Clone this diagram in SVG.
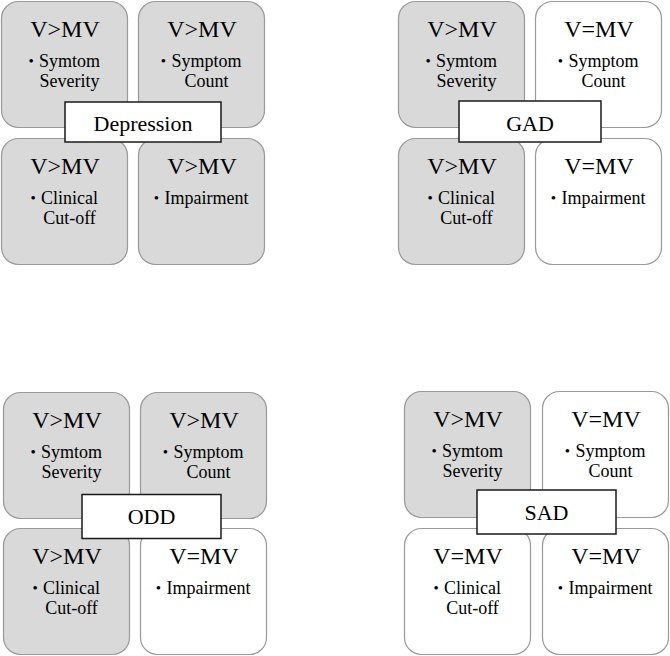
<svg xmlns="http://www.w3.org/2000/svg" width="670" height="656" viewBox="0 0 670 656" font-family="'Liberation Serif', 'DejaVu Serif', serif">
<style>
  text { font-family: 'Liberation Serif', 'DejaVu Serif', serif; fill: #000; text-anchor: middle; }
  .box { stroke: #999; stroke-width: 1.2; }
  .gray { fill: #d9d9d9; }
  .white { fill: #fff; }
  .v { font-size: 24px; }
  .b { font-size: 18px; }
  .dot { font-size: 15px; }
  .lab { fill: #fff; stroke: #1a1a1a; stroke-width: 1.5; }
  .lt { font-size: 22px; }
</style>
<rect width="670" height="656" fill="#fff"/>

<g id="depression">
  <g id="dep-tl"><rect class="box gray" x="1.5" y="1.5" width="126" height="126" rx="17"/>
    <text class="v" x="65" y="37">V&gt;MV</text><text class="dot" x="31.1" y="65.5">•</text>
    <text class="b" x="69.5" y="66.5">Symtom</text><text class="b" x="69.5" y="86.5">Severity</text></g>
  <g id="dep-tr"><rect class="box gray" x="138.5" y="1.5" width="126" height="126" rx="17"/>
    <text class="v" x="202" y="37">V&gt;MV</text><text class="dot" x="163.5" y="65.5">•</text>
    <text class="b" x="206.5" y="66.5">Symptom</text><text class="b" x="206.5" y="86.5">Count</text></g>
  <g id="dep-bl"><rect class="box gray" x="1.5" y="138.5" width="126" height="126" rx="17"/>
    <text class="v" x="65" y="174">V&gt;MV</text><text class="dot" x="33.2" y="202.5">•</text>
    <text class="b" x="69.5" y="203.5">Clinical</text><text class="b" x="69.5" y="223.5">Cut-off</text></g>
  <g id="dep-br"><rect class="box gray" x="138.5" y="138.5" width="126" height="126" rx="17"/>
    <text class="v" x="202" y="174">V&gt;MV</text><text class="dot" x="156.3" y="202.5">•</text>
    <text class="b" x="206.5" y="203.5">Impairment</text></g>
  <g id="dep-label"><rect class="lab" x="65" y="102" width="156" height="40"/>
    <text class="lt" x="143" y="131">Depression</text></g>
</g>

<g id="gad">
  <g id="gad-tl"><rect class="box gray" x="398.5" y="1.5" width="126" height="126" rx="17"/>
    <text class="v" x="462" y="37">V&gt;MV</text><text class="dot" x="428.1" y="65.5">•</text>
    <text class="b" x="466.5" y="66.5">Symtom</text><text class="b" x="466.5" y="86.5">Severity</text></g>
  <g id="gad-tr"><rect class="box white" x="535.5" y="1.5" width="126" height="126" rx="17"/>
    <text class="v" x="599" y="37">V=MV</text><text class="dot" x="560.5" y="65.5">•</text>
    <text class="b" x="603.5" y="66.5">Symptom</text><text class="b" x="603.5" y="86.5">Count</text></g>
  <g id="gad-bl"><rect class="box gray" x="398.5" y="138.5" width="126" height="126" rx="17"/>
    <text class="v" x="462" y="174">V&gt;MV</text><text class="dot" x="430.2" y="202.5">•</text>
    <text class="b" x="466.5" y="203.5">Clinical</text><text class="b" x="466.5" y="223.5">Cut-off</text></g>
  <g id="gad-br"><rect class="box white" x="535.5" y="138.5" width="126" height="126" rx="17"/>
    <text class="v" x="599" y="174">V=MV</text><text class="dot" x="553.3" y="202.5">•</text>
    <text class="b" x="603.5" y="203.5">Impairment</text></g>
  <g id="gad-label"><rect class="lab" x="459" y="101" width="142" height="41"/>
    <text class="lt" x="530" y="131">GAD</text></g>
</g>

<g id="odd">
  <g id="odd-tl"><rect class="box gray" x="3.5" y="392.5" width="126" height="126" rx="17"/>
    <text class="v" x="67" y="428">V&gt;MV</text><text class="dot" x="33.1" y="456.5">•</text>
    <text class="b" x="71.5" y="457.5">Symtom</text><text class="b" x="71.5" y="477.5">Severity</text></g>
  <g id="odd-tr"><rect class="box gray" x="140.5" y="392.5" width="126" height="126" rx="17"/>
    <text class="v" x="204" y="428">V&gt;MV</text><text class="dot" x="165.5" y="456.5">•</text>
    <text class="b" x="208.5" y="457.5">Symptom</text><text class="b" x="208.5" y="477.5">Count</text></g>
  <g id="odd-bl"><rect class="box gray" x="3.5" y="528.5" width="126" height="126" rx="17"/>
    <text class="v" x="67" y="564">V&gt;MV</text><text class="dot" x="35.2" y="592.5">•</text>
    <text class="b" x="71.5" y="593.5">Clinical</text><text class="b" x="71.5" y="613.5">Cut-off</text></g>
  <g id="odd-br"><rect class="box white" x="140.5" y="528.5" width="126" height="126" rx="17"/>
    <text class="v" x="204" y="564">V=MV</text><text class="dot" x="158.3" y="592.5">•</text>
    <text class="b" x="208.5" y="593.5">Impairment</text></g>
  <g id="odd-label"><rect class="lab" x="82" y="494.5" width="139" height="44"/>
    <text class="lt" x="151.5" y="524">ODD</text></g>
</g>

<g id="sad">
  <g id="sad-tl"><rect class="box gray" x="404.5" y="391.5" width="126" height="126" rx="17"/>
    <text class="v" x="468" y="427">V&gt;MV</text><text class="dot" x="434.1" y="455.5">•</text>
    <text class="b" x="472.5" y="456.5">Symtom</text><text class="b" x="472.5" y="476.5">Severity</text></g>
  <g id="sad-tr"><rect class="box white" x="542.5" y="391.5" width="126" height="126" rx="17"/>
    <text class="v" x="606" y="427">V=MV</text><text class="dot" x="567.5" y="455.5">•</text>
    <text class="b" x="610.5" y="456.5">Symptom</text><text class="b" x="610.5" y="476.5">Count</text></g>
  <g id="sad-bl"><rect class="box white" x="404.5" y="528.5" width="126" height="126" rx="17"/>
    <text class="v" x="468" y="564">V=MV</text><text class="dot" x="436.2" y="592.5">•</text>
    <text class="b" x="472.5" y="593.5">Clinical</text><text class="b" x="472.5" y="613.5">Cut-off</text></g>
  <g id="sad-br"><rect class="box white" x="542.5" y="528.5" width="126" height="126" rx="17"/>
    <text class="v" x="606" y="564">V=MV</text><text class="dot" x="560.3" y="592.5">•</text>
    <text class="b" x="610.5" y="593.5">Impairment</text></g>
  <g id="sad-label"><rect class="lab" x="477" y="490" width="139" height="44"/>
    <text class="lt" x="546.5" y="520">SAD</text></g>
</g>
</svg>
